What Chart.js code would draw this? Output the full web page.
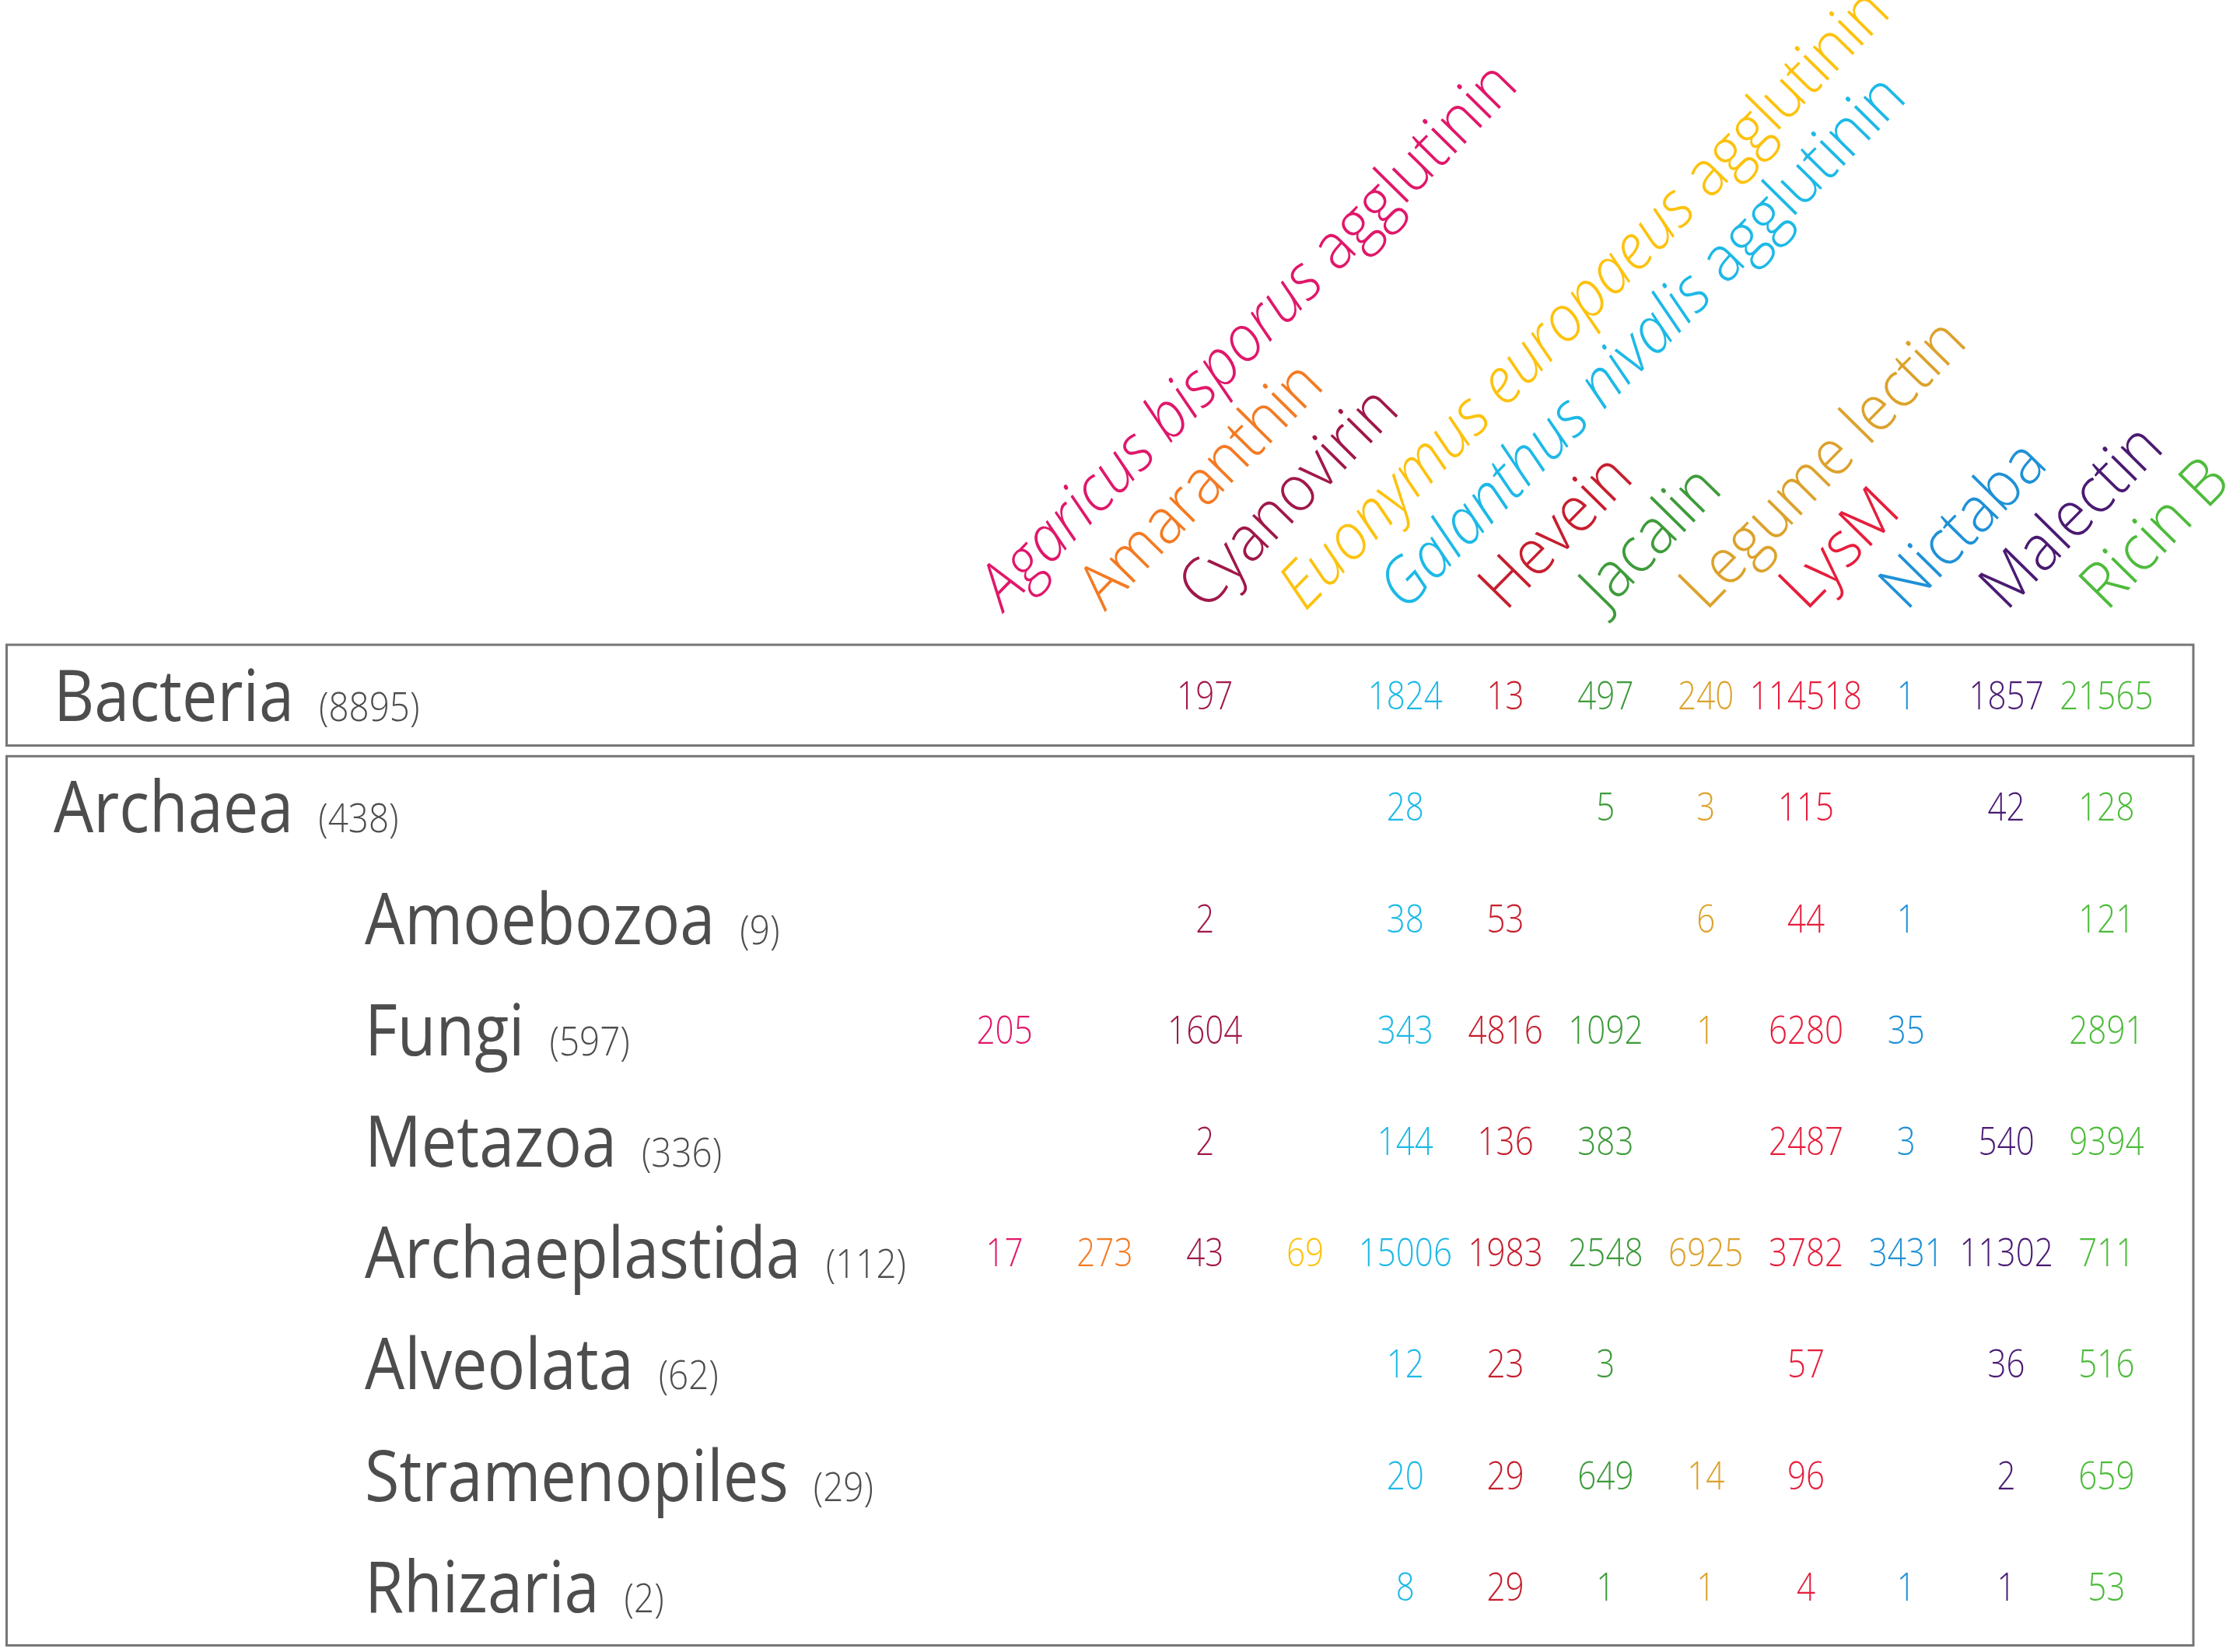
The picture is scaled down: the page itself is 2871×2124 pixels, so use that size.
<!DOCTYPE html>
<html><head><meta charset="utf-8">
<script src="https://cdn.jsdelivr.net/npm/chart.js@4.4.1/dist/chart.umd.min.js"></script>
<style>html,body{margin:0;padding:0;background:#fff;overflow:hidden}canvas{display:block}</style>
</head><body>
<canvas id="c" width="2871" height="2124" style="width:2871px;height:2124px"></canvas>
<script>
// ---- data ----
const families = ['Agaricus bisporus agglutinin','Amaranthin','Cyanovirin','Euonymus europaeus agglutinin','Galanthus nivalis agglutinin','Hevein','Jacalin','Legume lectin','LysM','Nictaba','Malectin','Ricin B'];
const familyItalic = ['Agaricus bisporus','','','Euonymus europaeus','Galanthus nivalis','','','','','','',''];
const familyColors = ['#E0176A','#F47A22','#A0184B','#FDC20E','#1DB9E6','#C61E2E','#3E9B3B','#DCA22C','#E61E3C','#1F91D6','#4A1A72','#4DBB3B'];
const taxa = ['Bacteria','Archaea','Amoebozoa','Fungi','Metazoa','Archaeplastida','Alveolata','Stramenopiles','Rhizaria'];
const taxaGenomes = [8895,438,9,597,336,112,62,29,2];
const bacteria       = [null,null,197,null,1824,13,497,240,114518,1,1857,21565];
const archaea        = [null,null,null,null,28,null,5,3,115,null,42,128];
const amoebozoa      = [null,null,2,null,38,53,null,6,44,1,null,121];
const fungi          = [205,null,1604,null,343,4816,1092,1,6280,35,null,2891];
const metazoa        = [null,null,2,null,144,136,383,null,2487,3,540,9394];
const archaeplastida = [17,273,43,69,15006,1983,2548,6925,3782,3431,11302,711];
const alveolata      = [null,null,null,null,12,23,3,null,57,null,36,516];
const stramenopiles  = [null,null,null,null,20,29,649,14,96,null,2,659];
const rhizaria       = [null,null,null,null,8,29,1,1,4,1,1,53];
const table = [bacteria,archaea,amoebozoa,fungi,metazoa,archaeplastida,alveolata,stramenopiles,rhizaria];

// ---- datasets: one per lectin family ----
const datasets = families.map((f, j) => ({
  label: f,
  data: table.map((row, i) => row[j] == null ? null : {x: j, y: i, v: row[j]}).filter(Boolean),
  pointRadius: 0, pointHoverRadius: 0, showLine: false,
  borderColor: familyColors[j], backgroundColor: familyColors[j]
}));

const FONT = '"Open Sans", "Noto Sans", sans-serif';
const GRAY = '#4d4d4d';

function drawScaled(ctx, text, x, y, font, color, sx, align) {
  ctx.save();
  ctx.font = font;
  ctx.fillStyle = color;
  ctx.textBaseline = 'alphabetic';
  ctx.textAlign = align || 'left';
  ctx.translate(x, y);
  ctx.scale(sx, 1);
  ctx.fillText(text, 0, 0);
  const w = ctx.measureText(text).width * sx;
  ctx.restore();
  return w;
}

const tablePlugin = {
  id: 'tablePlugin',
  beforeDraw(chart) {
    const ctx = chart.ctx;
    ctx.save();
    ctx.fillStyle = '#ffffff';
    ctx.fillRect(0, 0, chart.width, chart.height);
    const ys = chart.scales.y;
    const r0 = ys.getPixelForValue(0), r1 = ys.getPixelForValue(1), r8 = ys.getPixelForValue(8);
    ctx.strokeStyle = '#767676';
    ctx.lineWidth = 3;
    const left = 8.5, right = 2820;
    ctx.strokeRect(left, r0 - 65.5, right - left, 129.5);
    ctx.strokeRect(left, r1 - 65.5, right - left, (r8 + 75) - (r1 - 65.5));
    ctx.restore();
  },
  afterDatasetsDraw(chart) {
    const ctx = chart.ctx;
    const xs = chart.scales.x, ys = chart.scales.y;
    // cell values
    chart.data.datasets.forEach((ds, j) => {
      const meta = chart.getDatasetMeta(j);
      meta.data.forEach((pt, k) => {
        const v = ds.data[k].v;
        drawScaled(ctx, String(v), pt.x, pt.y + 17.5, '300 49px ' + FONT, familyColors[j], 0.86, 'center');
      });
    });
    // column headers (rotated)
    const hy = chart.chartArea.top - 36;
    const ang = -45.5 * Math.PI / 180;
    families.forEach((f, j) => {
      const x = xs.getPixelForValue(j);
      ctx.save();
      ctx.translate(x, hy);
      ctx.rotate(ang);
      ctx.scale(0.94, 1);
      ctx.fillStyle = familyColors[j];
      ctx.textAlign = 'left';
      ctx.textBaseline = 'alphabetic';
      let cx = 0;
      const it = familyItalic[j];
      if (it) {
        ctx.font = 'italic 300 82px ' + FONT;
        ctx.fillText(it, 0, 0);
        cx = ctx.measureText(it + ' ').width;
      }
      ctx.font = '300 82px ' + FONT;
      ctx.fillText(it ? f.slice(it.length + 1) : f, cx, 0);
      ctx.restore();
    });
    // row labels
    taxa.forEach((t, i) => {
      const y = ys.getPixelForValue(i) + 32.5;
      const x = i < 2 ? 69 : 469;
      const w = drawScaled(ctx, t, x, y, '400 91px ' + FONT, GRAY, 0.89, 'left');
      drawScaled(ctx, '(' + taxaGenomes[i] + ')', x + w + 32, y, '300 52px ' + FONT, GRAY, 0.88, 'left');
    });
  }
};

new Chart(document.getElementById('c'), {
  type: 'scatter',
  data: { datasets },
  options: {
    responsive: false,
    devicePixelRatio: 1,
    animation: false,
    events: [],
    layout: { padding: { left: 1227.2, right: 98.2, top: 822.9, bottom: 11.9 } },
    plugins: { legend: { display: false }, tooltip: { enabled: false } },
    scales: {
      x: { type: 'linear', min: -0.5, max: 11.5, display: false },
      y: { type: 'linear', min: -0.5, max: 8.5, reverse: true, display: false }
    }
  },
  plugins: [tablePlugin]
});
</script>
</body></html>
